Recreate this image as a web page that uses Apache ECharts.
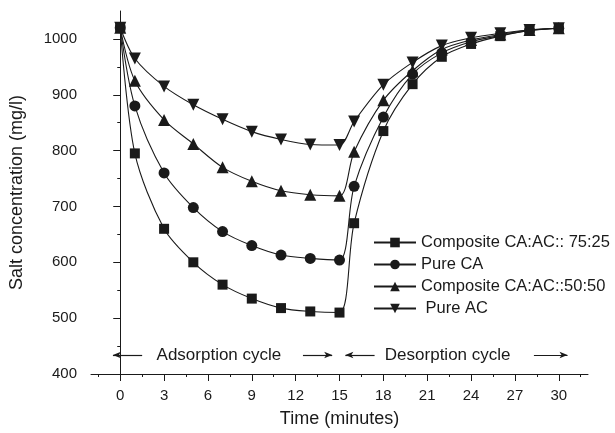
<!DOCTYPE html>
<html lang="en">
<head>
    <meta charset="UTF-8">
    <title>Salt concentration</title>
</head>
<body style="margin:0">
<script src="https://cdn.jsdelivr.net/npm/echarts@6.0.0/dist/echarts.min.js"></script>

<div id="main" style="width: 615px;height:433px;"></div>

<script type="text/javascript">
    // data
    var times = [0, 1, 3, 5, 7, 9, 11, 13, 15, 16, 18, 20, 22, 24, 26, 28, 30];
    var comp7525 = [1020, 795, 660, 600, 560, 535, 518, 512, 510, 670, 835, 919, 968, 991, 1005, 1015, 1019];
    var pureCA = [1020, 880, 760, 698, 655, 630, 613, 607, 604, 736, 860, 937, 975, 995, 1006, 1015, 1019];
    var comp5050 = [1020, 925, 855, 812, 770, 745, 728, 721, 719, 798, 890, 943, 981, 998, 1008, 1016, 1019];
    var pureAC = [1020, 965, 915, 882, 856, 834, 820, 811, 810, 852, 918, 958, 988, 1002, 1010, 1016, 1019];
    var seriesNames = ['Composite CA:AC:: 75:25', 'Pure CA', 'Composite CA:AC::50:50', ' Pure AC'];

    var xMajor = [0, 3, 6, 9, 12, 15, 18, 21, 24, 27, 30];
    var xMinor = [-1.5, 1.5, 4.5, 7.5, 10.5, 13.5, 16.5, 19.5, 22.5, 25.5, 28.5, 31.5];
    var yMajor = [400, 500, 600, 700, 800, 900, 1000];
    var yMinor = [450, 550, 650, 750, 850, 950];

    var font = 'Liberation Sans, Arial, sans-serif';
    var ink = '#1a1a1a';

    function pairs(ys) {
        return times.map(function (t, i) { return [t, ys[i]]; });
    }

    function makeSeries(name, ys, symbol, size, rotate) {
        return {
            name: name,
            type: 'line',
            data: pairs(ys),
            smooth: 0.3,
            symbol: symbol,
            symbolSize: size,
            symbolRotate: rotate || 0,
            showAllSymbol: true,
            itemStyle: {color: ink},
            lineStyle: {color: ink, width: 1.1},
            z: 3
        };
    }

    var myChart = echarts.init(document.getElementById('main'));

    var s1 = makeSeries(seriesNames[0], comp7525, 'rect', 10);
    var s2 = makeSeries(seriesNames[1], pureCA, 'circle', 11);
    var s3 = makeSeries(seriesNames[2], comp5050, 'triangle', 12);
    var s4 = makeSeries(seriesNames[3], pureAC, 'triangle', 12, 180);

    // cycle arrows and labels
    var arrowY = 434;
    s1.markLine = {
        silent: true,
        symbol: ['none', 'arrow'],
        symbolSize: [5, 8],
        label: {show: false},
        lineStyle: {color: ink, width: 1.2, type: 'solid'},
        data: [
            [{coord: [1.5, arrowY]}, {coord: [-0.5, arrowY]}],
            [{coord: [12.5, arrowY]}, {coord: [14.5, arrowY]}],
            [{coord: [17.4, arrowY]}, {coord: [15.4, arrowY]}],
            [{coord: [28.3, arrowY]}, {coord: [30.6, arrowY]}]
        ]
    };
    s1.markPoint = {
        silent: true,
        symbol: 'circle',
        symbolSize: 0,
        label: {show: true, position: 'inside', color: ink, fontSize: 17, fontFamily: font},
        data: [
            {coord: [6.75, arrowY], value: 'Adsorption cycle'},
            {coord: [22.4, arrowY], value: 'Desorption cycle'}
        ]
    };

    var option = {
        animation: false,
        backgroundColor: '#ffffff',
        textStyle: {fontFamily: font},
        grid: {left: 91, right: 27, top: 11, bottom: 57},
        legend: {
            data: seriesNames,
            orient: 'vertical',
            left: 368,
            top: 229,
            itemWidth: 42,
            itemHeight: 12,
            itemGap: 5,
            textStyle: {color: ink, fontSize: 16.5, lineHeight: 17, fontFamily: font}
        },
        xAxis: [
            {
                type: 'value',
                min: -2,
                max: 32,
                name: 'Time (minutes)',
                nameLocation: 'middle',
                nameGap: 36,
                nameTextStyle: {color: ink, fontSize: 18, fontFamily: font},
                axisLine: {lineStyle: {color: ink, width: 1}},
                axisTick: {length: 7, customValues: xMajor, lineStyle: {color: ink}},
                axisLabel: {customValues: xMajor, color: ink, fontSize: 15, margin: 14},
                splitLine: {show: false}
            },
            {
                type: 'value',
                min: -2,
                max: 32,
                position: 'bottom',
                axisLine: {show: false},
                axisTick: {length: 3, customValues: xMinor, lineStyle: {color: ink}},
                axisLabel: {show: false},
                splitLine: {show: false}
            }
        ],
        yAxis: [
            {
                type: 'value',
                min: 400,
                max: 1050,
                name: 'Salt concentration (mg/l)',
                nameLocation: 'middle',
                nameGap: 65,
                nameTextStyle: {color: ink, fontSize: 18, fontFamily: font},
                axisLine: {show: true, lineStyle: {color: ink, width: 1}},
                axisTick: {show: true, length: 7, customValues: yMajor, lineStyle: {color: ink}},
                axisLabel: {
                    customValues: yMajor, color: ink, fontSize: 15, margin: 14,
                    formatter: function (v) { return String(v); }
                },
                splitLine: {show: false}
            },
            {
                type: 'value',
                min: 400,
                max: 1050,
                position: 'left',
                axisLine: {show: false},
                axisTick: {show: true, length: 3, customValues: yMinor, lineStyle: {color: ink}},
                axisLabel: {show: false},
                splitLine: {show: false}
            }
        ],
        series: [s1, s2, s3, s4]
    };

    myChart.setOption(option);
</script>
</body>
</html>
